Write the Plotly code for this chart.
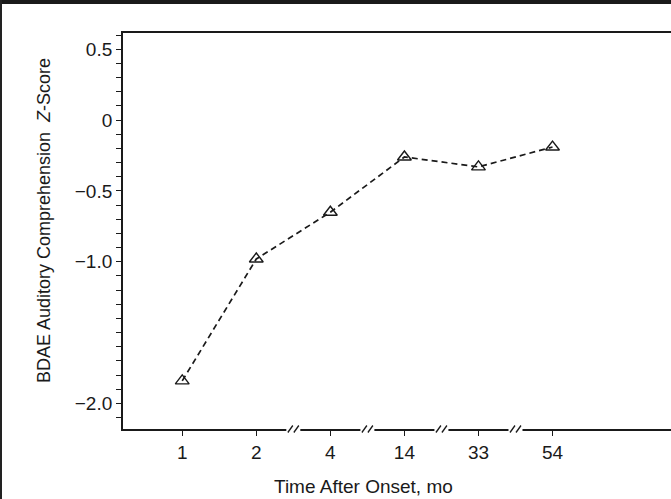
import plotly.graph_objects as go

# ---- data ----
months = ["1", "2", "4", "14", "33", "54"]
z_scores = [-1.84, -0.98, -0.65, -0.26, -0.33, -0.19]
y_tickvals = [0.5, 0, -0.5, -1.0, -2.0]
y_ticktext = ["0.5", "0", "\u22120.5", "\u22121.0", "\u22122.0"]
x_title = "Time After Onset, mo"
y_title = "BDAE Auditory Comprehension  <i>Z</i>-Score"

x_pos = list(range(len(months)))
FONT = "Liberation Sans, Arial, Helvetica, sans-serif"
BLACK = "#1a1a1a"

W, H = 671, 499
ML, MR, MT, MB = 123, 0, 33, 70
PW, PH = W - ML - MR, H - MT - MB


def px_x(p):  # page pixel x -> paper x
    return (p - ML) / PW


def px_y(p):  # page pixel y -> paper y
    return (H - MB - p) / PH


fig = go.Figure()
fig.add_trace(go.Scatter(
    x=x_pos, y=z_scores, mode="lines+markers",
    line=dict(color=BLACK, width=1.7, dash="6px,4px"),
    marker=dict(symbol="triangle-up-open", size=12, color=BLACK,
                line=dict(width=1.4, color=BLACK)),
    showlegend=False, hoverinfo="skip",
))

xrange = [-0.8, 6.6]
yrange = [-2.18, 0.615]

fig.update_layout(
    width=W, height=H,
    margin=dict(l=ML, r=MR, t=MT, b=MB, autoexpand=False),
    paper_bgcolor="white", plot_bgcolor="white",
    font=dict(family=FONT, size=19, color=BLACK),
    xaxis=dict(
        range=xrange, tickmode="array", tickvals=x_pos, ticktext=months,
        showgrid=False, zeroline=False, showline=True, linecolor=BLACK, linewidth=1.6,
        mirror=True,
        ticks="outside", ticklen=5, tickwidth=1.4, tickcolor=BLACK,
        tickfont=dict(size=19),
    ),
    yaxis=dict(
        range=yrange, tickmode="array", tickvals=y_tickvals, ticktext=y_ticktext,
        showgrid=False, zeroline=False, showline=True, linecolor=BLACK, linewidth=1.9,
        ticks="outside", ticklen=5, tickwidth=1.4, tickcolor=BLACK,
        minor=dict(dtick=0.1, tick0=0, ticks="outside", ticklen=5, tickwidth=1.4,
                   tickcolor=BLACK, showgrid=False),
        tickfont=dict(size=19),
    ),
    annotations=[
        dict(text=x_title, xref="paper", yref="paper", x=0.438, y=0,
             xanchor="center", yanchor="middle", yshift=-57, showarrow=False,
             font=dict(size=19, family=FONT, color=BLACK)),
        dict(text=y_title, xref="paper", yref="paper", x=0, y=0.525,
             xanchor="center", yanchor="middle", xshift=-79, textangle=-90,
             showarrow=False, font=dict(size=18, family=FONT, color=BLACK)),
    ],
)

shapes = []
# scan border: top bar and left edge line (paper coordinates)
shapes.append(dict(type="rect", xref="paper", yref="paper",
                   x0=px_x(0), x1=px_x(W), y0=px_y(0), y1=px_y(4),
                   fillcolor=BLACK, line=dict(width=0), layer="above"))
shapes.append(dict(type="line", xref="paper", yref="paper",
                   x0=px_x(1), x1=px_x(1), y0=px_y(0), y1=px_y(H),
                   line=dict(color="#222", width=2)))
# axis breaks (//) between consecutive categories after "2"
for i in range(1, len(months) - 1):
    xc = i + 0.5
    shapes.append(dict(type="rect", xref="x", yref="paper", xsizemode="pixel",
                       ysizemode="pixel", xanchor=xc, yanchor=0,
                       x0=-7, x1=7, y0=-2, y1=2, fillcolor="white",
                       line=dict(width=0), layer="above"))
    for dx in (-3, 3):
        shapes.append(dict(type="line", xref="x", yref="paper", xsizemode="pixel",
                           ysizemode="pixel", xanchor=xc, yanchor=0,
                           x0=dx - 2.5, x1=dx + 2.5, y0=-3.5, y1=3.5,
                           line=dict(color=BLACK, width=1.3), layer="above"))
fig.update_layout(shapes=shapes)

fig.write_html(
    "out.html", config={"displayModeBar": False},
    post_script=("document.body.style.margin='0';document.body.style.padding='0';"
                 "document.documentElement.style.overflow='hidden';"
                 "document.body.style.overflow='hidden';"),
)
